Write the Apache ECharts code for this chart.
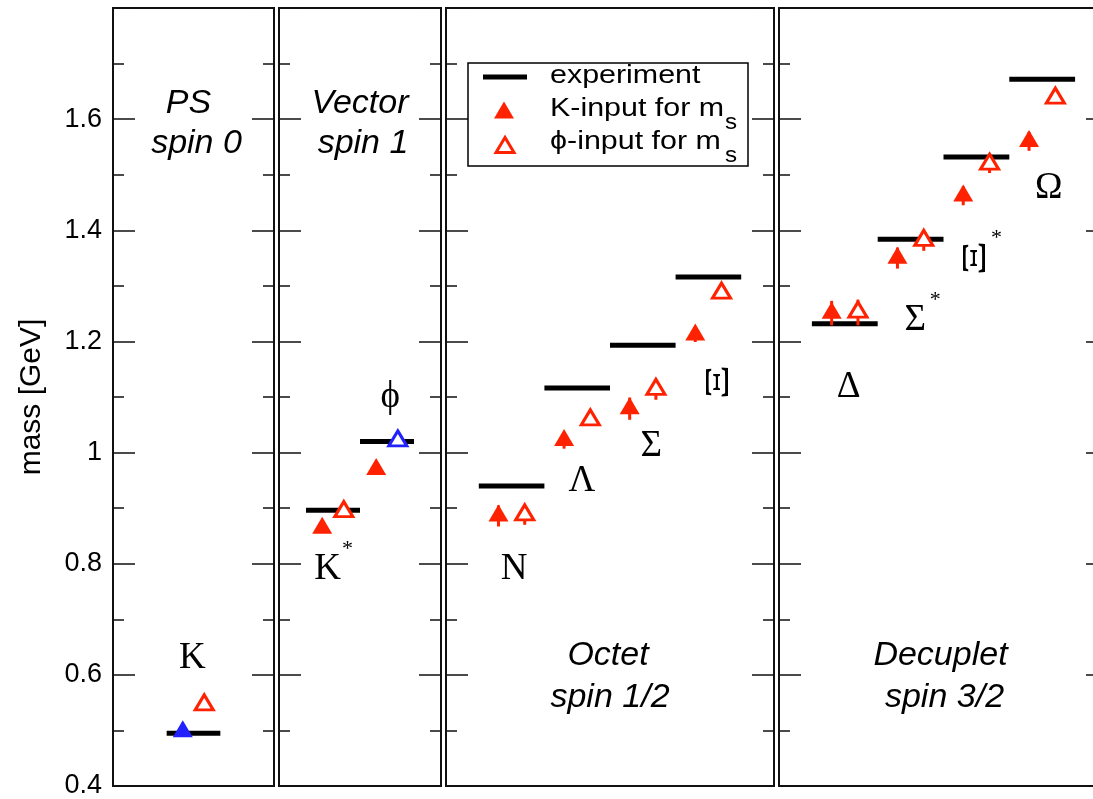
<!DOCTYPE html>
<html><head><meta charset="utf-8">
<script src="https://cdn.jsdelivr.net/npm/echarts@6/dist/echarts.min.js"></script>
<style>html,body{margin:0;padding:0;background:#fff;overflow:hidden}#c{width:1093px;height:799px}</style>
</head><body><div id="c"></div>
<script>
// ---------------- data ----------------
const panelTitles = [['PS', 'spin 0'], ['Vector', 'spin 1'], ['Octet', 'spin 1/2'], ['Decuplet', 'spin 3/2']];
const panelXMax = [3, 3, 5, 5];
const particles = ['K', 'K*', 'ϕ', 'N', 'Λ', 'Σ', 'Ξ', 'Δ', 'Σ*', 'Ξ*', 'Ω'];
const particlePanel = [0, 1, 1, 2, 2, 2, 2, 3, 3, 3, 3];
const particleX = [1.5, 1, 2, 1, 2, 3, 4, 1, 2, 3, 4];
const experiment = [0.495, 0.896, 1.020, 0.940, 1.116, 1.193, 1.316, 1.232, 1.384, 1.532, 1.672];
const kInput = [0.498, 0.864, 0.970, 0.886, 1.022, 1.079, 1.212, 1.251, 1.350, 1.462, 1.560];
const kInputErr = [0.004, 0.005, 0.005, 0.019, 0.015, 0.020, 0.013, 0.022, 0.019, 0.017, 0.017];
const phiInput = [0.545, 0.893, 1.020, 0.887, 1.058, 1.113, 1.286, 1.252, 1.381, 1.518, 1.637];
const phiInputErr = [0.005, 0.005, 0.004, 0.017, 0.010, 0.018, 0.008, 0.023, 0.018, 0.015, 0.008];
const kInputIsInput = [true, false, false, false, false, false, false, false, false, false, false];
const phiInputIsInput = [false, false, true, false, false, false, false, false, false, false, false];
const legendLabels = ['experiment', 'K-input for m', 'ϕ-input for m'];
const yMin = 0.4, yMax = 1.8, yStep = 0.2;

// ---------------- layout / style ----------------
// [left, full width, visible width] — the last panel runs past the right edge of the picture
const gridRects = [[113, 161, 161], [279, 162, 162], [446, 328, 328], [779, 329, 314]];
const GTOP = 8, GBOTTOM = 13;
const markerOffset = 0.2, expHalf = 0.5;
const RED = '#ff2200', BLUE = '#2222ff', INK = '#111';
// label anchor positions (data coords) for particle names
const labelPos = [[1.48, 0.630], [0.9, 0.790], [2.06, 1.10], [1.04, 0.790], [2.07, 0.948], [3.13, 1.012], [4.16, 1.127], [1.06, 1.118], [2.07, 1.238], [3.0, 1.35], [4.1, 1.476]];
const titleRows = [[104, 144], [104, 144], [656, 698], [656, 698]];
const titleShift = [[-5, 3], [0, 3], [-2, 0], [-3, 1]];

const chart = echarts.init(document.getElementById('c'), null, {renderer: 'canvas'});

const grids = [], xAxes = [], yAxes = [], series = [];
const frameLine = {show: true, onZero: false, lineStyle: {color: INK, width: 2}};
const noLine = {show: false, onZero: false};
const extraX = [];
gridRects.forEach((r, i) => {
  const clipped = r[2] < r[1];
  grids.push({left: r[0], width: r[2], top: GTOP, bottom: GBOTTOM, show: !clipped, borderColor: INK, borderWidth: 2,
    backgroundColor: 'transparent', outerBoundsMode: 'none', containLabel: false});
  const xMax = panelXMax[i] * r[2] / r[1];
  const xa = {type: 'value', gridIndex: i, min: 0, max: xMax, show: clipped, position: 'bottom',
    axisLine: frameLine, axisTick: {show: false}, axisLabel: {show: false}, splitLine: {show: false}};
  xAxes.push(xa);
  if (clipped) extraX.push(Object.assign({}, xa, {position: 'top'}));
  ['left', 'right'].forEach(pos => {
    const labeled = (i === 0 && pos === 'left');
    const edge = clipped && pos === 'right';
    yAxes.push({
      type: 'value', gridIndex: i, position: pos, min: yMin, max: yMax, interval: yStep,
      axisLine: (clipped && pos === 'left') ? frameLine : noLine, splitLine: {show: false},
      axisTick: {show: true, inside: true, length: edge ? 22 - (r[1] - r[2]) : 22, lineStyle: {color: INK, width: 1.5}},
      minorTick: {show: !edge, splitNumber: 2, length: 11, lineStyle: {color: INK, width: 1.5}},
      axisLabel: {show: labeled, margin: 11, fontFamily: 'Liberation Sans', fontSize: 27, color: '#000',
        formatter: v => (v > yMax - 0.05 ? '' : String(+(+v).toFixed(1)))},
      name: labeled ? 'mass [GeV]' : '', nameLocation: 'middle', nameRotate: 90, nameGap: 66,
      nameTextStyle: {fontFamily: 'Liberation Sans', fontSize: 30, color: '#000'}
    });
  });
});
extraX.forEach(a => xAxes.push(a));

function hLine(params, api) {
  const x = api.value(0), y = api.value(1);
  const a = api.coord([x - expHalf, y]), b = api.coord([x + expHalf, y]);
  return {type: 'line', shape: {x1: a[0], y1: a[1], x2: b[0], y2: b[1]}, style: {stroke: '#000', lineWidth: 5}};
}
function errBar(params, api) {
  const x = api.value(0), y = api.value(1), e = api.value(2);
  const a = api.coord([x, y - e]), b = api.coord([x, y + e]);
  return {type: 'line', shape: {x1: a[0], y1: a[1], x2: b[0], y2: b[1]}, style: {stroke: RED, lineWidth: 3}};
}

gridRects.forEach((r, i) => {
  const idx = particles.map((p, j) => j).filter(j => particlePanel[j] === i);
  const yi = 2 * i;
  series.push({type: 'custom', xAxisIndex: i, yAxisIndex: yi, renderItem: hLine, z: 1,
    data: idx.map(j => [particleX[j], experiment[j]])});
  series.push({type: 'custom', xAxisIndex: i, yAxisIndex: yi, renderItem: errBar, z: 2,
    data: idx.filter(j => !kInputIsInput[j]).map(j => [particleX[j] - markerOffset, kInput[j], kInputErr[j]])});
  series.push({type: 'custom', xAxisIndex: i, yAxisIndex: yi, renderItem: errBar, z: 2,
    data: idx.filter(j => !phiInputIsInput[j]).map(j => [particleX[j] + markerOffset, phiInput[j], phiInputErr[j]])});
  series.push({type: 'scatter', xAxisIndex: i, yAxisIndex: yi, symbol: 'triangle', symbolSize: [20, 17], symbolOffset: [0, -2.8], z: 3,
    itemStyle: {opacity: 1},
    data: idx.map(j => ({value: [particleX[j] - markerOffset, kInput[j]], itemStyle: {color: kInputIsInput[j] ? BLUE : RED, opacity: 1}}))});
  series.push({type: 'scatter', xAxisIndex: i, yAxisIndex: yi, symbol: 'triangle', symbolSize: [18, 15], symbolOffset: [0, -3], z: 3,
    itemStyle: {opacity: 1},
    data: idx.map(j => ({value: [particleX[j] + markerOffset, phiInput[j]],
      itemStyle: {color: '#fff', borderColor: phiInputIsInput[j] ? BLUE : RED, borderWidth: 3, opacity: 1}}))});
});

chart.setOption({
  animation: false,
  backgroundColor: '#fff',
  grid: grids, xAxis: xAxes, yAxis: yAxes, series: series
});

// ---------------- annotations ----------------
const g = [];
gridRects.forEach((r, i) => {
  const cx = r[0] + r[1] / 2;
  panelTitles[i].forEach((t, k) => {
    g.push({type: 'text', x: cx + titleShift[i][k], y: titleRows[i][k], style: {text: t, fontFamily: 'Liberation Sans', fontStyle: 'italic',
      fontSize: 34, fill: '#000', align: 'center', verticalAlign: 'middle'}});
  });
});
particles.forEach((p, j) => {
  const base = p.replace('*', ''), star = p.indexOf('*') >= 0;
  const px = chart.convertToPixel({gridIndex: particlePanel[j]}, labelPos[j]);
  const isXi = base === 'Ξ';
  g.push({type: 'text', x: px[0], y: px[1], rotation: isXi ? Math.PI / 2 : 0, scaleX: isXi ? 1.6 : 1,
    style: {text: base, fontFamily: 'Liberation Serif', fontSize: isXi ? 34 : 37, fill: '#000', align: 'center', verticalAlign: 'middle'}});
  if (star) {
    g.push({type: 'text', x: px[0] + 20, y: px[1] - 20,
      style: {text: '*', fontFamily: 'Liberation Serif', fontSize: 22, fill: '#000', align: 'center', verticalAlign: 'middle'}});
  }
});
// legend box
g.push({type: 'rect', shape: {x: 468, y: 63, width: 280, height: 103}, style: {fill: '#fff', stroke: '#000', lineWidth: 1.5}, z: 10});
g.push({type: 'line', shape: {x1: 483, y1: 77, x2: 527, y2: 77}, style: {stroke: '#000', lineWidth: 5}, z: 11});
g.push({type: 'polygon', shape: {points: [[504, 101.5], [494, 118.5], [514, 118.5]]}, style: {fill: RED}, z: 11});
g.push({type: 'polygon', shape: {points: [[505, 137.5], [496, 152.5], [514, 152.5]]}, style: {fill: '#fff', stroke: RED, lineWidth: 3}, z: 11});
const legY = [76, 109, 142];
legendLabels.forEach((t, k) => {
  g.push({type: 'text', x: 550, y: legY[k], scaleX: 1.17, originX: 0, originY: 0, z: 11,
    style: {text: t, fontFamily: 'Liberation Sans', fontSize: 26, fill: '#000', align: 'left', verticalAlign: 'middle'}});
  if (k > 0) {
    g.push({type: 'text', x: 725, y: legY[k] + 14, scaleX: 1.1, originX: 0, originY: 0, z: 11,
      style: {text: 's', fontFamily: 'Liberation Sans', fontSize: 22, fill: '#000', align: 'left', verticalAlign: 'middle'}});
  }
});
chart.setOption({graphic: g});
</script></body></html>
